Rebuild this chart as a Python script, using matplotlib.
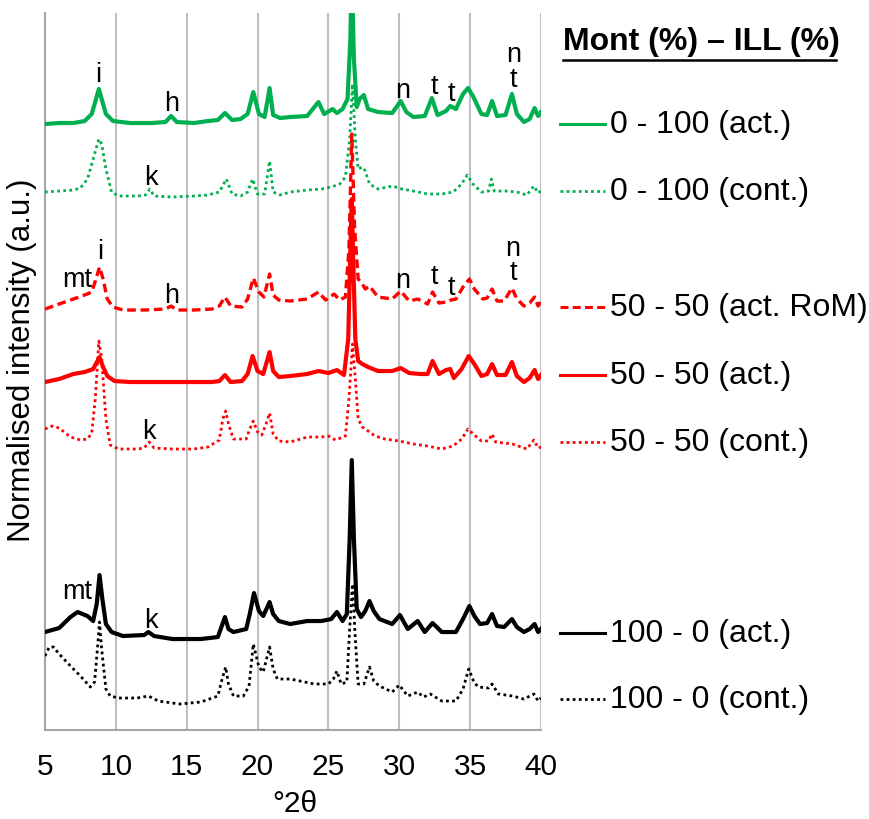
import matplotlib.pyplot as plt

plt.rcParams['font.family'] = ['Liberation Sans', 'DejaVu Sans']

# 2theta / stacked normalised intensity
m0_act_tt = [5.0, 6.0, 7.0, 7.8, 8.3, 8.6, 8.8, 9.0, 9.3, 9.8, 11, 12.5, 13.5, 13.9, 14.3, 15.5, 16.5, 17.2, 17.7, 18.2,
             18.8, 19.3, 19.7, 20.1, 20.5, 20.85, 21.1, 21.6, 22.3, 23.5, 24.3, 24.7, 25.3, 25.6, 26.0, 26.35, 26.55,
             26.65, 26.8, 27.0, 27.2, 27.5, 27.8, 28.5, 29.5, 30.1, 30.5, 31.0, 31.8, 32.3, 32.7, 33.3, 33.6, 34.0,
             34.5, 34.85, 35.2, 35.8, 36.2, 36.55, 36.9, 37.5, 37.95, 38.3, 38.8, 39.2, 39.55, 39.8, 40.0]
m0_act_i = [606, 607, 607, 609, 616, 631, 641, 631, 616, 609, 607, 607, 608, 614, 608, 607, 609, 610, 617, 610,
            611, 616, 638, 616, 613, 642, 615, 612, 613, 614, 628, 616, 621, 617, 621, 631, 691,
            760, 671, 623, 631, 635, 621, 618, 617, 629, 618, 613, 614, 632, 615, 619, 624, 621,
            636, 642, 634, 616, 615, 629, 614, 615, 636, 616, 608, 611, 622, 614, 618]

m0_cont_tt = [5.0, 6.0, 7.0, 7.5, 8.0, 8.4, 8.8, 9.0, 9.3, 9.7, 10.2, 11.5, 12.1, 12.4, 12.7, 14, 15.5, 16.5, 17.3,
              17.8, 18.2, 18.8, 19.3, 19.65, 20.0, 20.5, 20.85, 21.1, 21.6, 22.3, 23.5, 24.5, 25.2, 25.8, 26.2, 26.5,
              26.7, 26.9, 27.1, 27.4, 27.6, 27.9, 28.5, 29.5, 30.2, 31.0, 32.0, 33.0, 33.8, 34.4, 34.8, 35.2, 35.8,
              36.3, 36.5, 36.7, 37.5, 38.3, 39.0, 39.5, 39.8, 40.0]
m0_cont_i = [538, 539, 540, 542, 551, 571, 591, 586, 561, 538, 534, 534, 535, 541, 534, 533, 534, 535, 538,
             551, 536, 534, 538, 551, 536, 536, 569, 538, 535, 538, 540, 541, 543, 546, 553, 591,
             646, 591, 561, 563, 559, 546, 541, 544, 541, 539, 536, 536, 538, 546, 555, 546, 538,
             539, 551, 539, 539, 538, 535, 544, 537, 539]

m50_rom_tt = [5.0, 6.0, 7.0, 7.8, 8.3, 8.6, 8.85, 9.1, 9.4, 9.8, 10.5, 12, 13.5, 13.9, 14.3, 15.5, 16.8, 17.3, 17.7,
              18.1, 18.9, 19.3, 19.7, 20.1, 20.45, 20.85, 21.1, 21.5, 22.3, 23.5, 24.3, 24.8, 25.4, 25.8, 26.2,
              26.45, 26.65, 26.85, 27.1, 27.4, 27.6, 27.9, 28.5, 29.5, 30.1, 30.7, 31.3, 32.0, 32.35, 32.8, 33.3,
              33.65, 34.0, 34.5, 34.95, 35.3, 35.9, 36.2, 36.55, 36.9, 37.4, 37.95, 38.3, 38.8, 39.2, 39.55, 39.8, 40.0]
m50_rom_i = [421, 426, 431, 435, 438, 451, 463, 451, 431, 423, 420, 420, 421, 424, 420, 420, 421, 424, 433,
             424, 423, 431, 452, 438, 433, 456, 435, 430, 429, 431, 438, 430, 436, 430, 433,
             481, 596, 501, 451, 446, 441, 444, 433, 431, 439, 429, 431, 426, 438, 427, 428,
             430, 431, 443, 451, 441, 431, 432, 441, 429, 429, 442, 431, 424, 427, 433, 424, 429]

m50_act_tt = [5.0, 6.0, 7.0, 7.8, 8.4, 8.7, 8.85, 9.1, 9.4, 9.9, 11, 12.5, 14, 15.5, 16.8, 17.3, 17.7, 18.1, 18.9,
              19.3, 19.65, 20.0, 20.4, 20.85, 21.1, 21.5, 22.3, 23.5, 24.3, 25.0, 25.6, 26.1, 26.4, 26.55, 26.65,
              26.75, 26.9, 27.1, 27.4, 27.8, 28.5, 29.5, 30.1, 30.7, 31.5, 32.0, 32.35, 32.8, 33.3, 33.6, 33.85,
              34.4, 34.9, 35.3, 35.8, 36.2, 36.55, 36.9, 37.5, 37.95, 38.3, 38.8, 39.2, 39.55, 39.8, 40.0]
m50_act_i = [348, 351, 356, 358, 361, 369, 373, 363, 354, 349, 348, 348, 348, 348, 348, 349, 355, 348, 349,
             356, 374, 359, 356, 378, 359, 353, 354, 356, 359, 357, 360, 355, 391, 481, 531,
             471, 391, 369, 366, 363, 359, 359, 362, 357, 356, 356, 369, 356, 360, 361, 352,
             361, 374, 366, 354, 356, 366, 355, 355, 368, 354, 348, 352, 360, 351, 355]

m50_cont_tt = [5.0, 5.5, 6.0, 6.8, 7.5, 8.0, 8.3, 8.55, 8.8, 9.0, 9.3, 9.6, 10.2, 11.5, 12.0, 12.35, 12.7, 14, 15.5,
               16.5, 17.3, 17.55, 17.75, 17.95, 18.3, 19.2, 19.45, 19.7, 20.0, 20.3, 20.6, 20.85, 21.1, 21.5, 22.3,
               23.5, 24.5, 25.0, 25.5, 26.2, 26.45, 26.7, 26.9, 27.1, 27.4, 27.8, 28.3, 29, 30, 31, 32, 33, 33.8,
               34.4, 34.85, 35.3, 35.8, 36.3, 36.55, 36.8, 38, 39, 39.5, 39.8, 40.0]
m50_cont_i = [301, 304, 302, 293, 290, 291, 297, 331, 389, 371, 311, 285, 281, 281, 282, 288, 282, 281, 281,
              283, 290, 311, 319, 306, 291, 291, 301, 309, 298, 295, 306, 317, 296, 289, 288,
              293, 293, 294, 290, 294, 331, 386, 351, 311, 303, 299, 294, 291, 289, 286, 284, 281, 284,
              291, 301, 295, 289, 289, 296, 288, 286, 281, 290, 282, 283]

m100_act_tt = [5.0, 6.0, 6.8, 7.3, 8.0, 8.4, 8.65, 8.85, 9.05, 9.3, 9.7, 10.5, 12.0, 12.3, 12.7, 14, 16, 17.2, 17.45,
               17.7, 17.95, 18.3, 19.2, 19.45, 19.75, 20.1, 20.4, 20.85, 21.1, 21.5, 22.3, 23.5, 24.5, 25.2, 25.6,
               26.0, 26.3, 26.5, 26.65, 26.8, 27.0, 27.3, 27.6, 27.9, 28.2, 28.6, 29.5, 30.05, 30.6, 31.3, 31.8,
               32.35, 33.0, 34.0, 34.5, 34.95, 35.3, 35.7, 36.2, 36.55, 36.9, 37.4, 37.95, 38.3, 38.8, 39.2, 39.55,
               39.8, 40.0]
m100_act_i = [98, 102, 113, 118, 114, 109, 126, 155, 131, 106, 98, 94, 95, 98, 94, 91, 91, 93, 103,
              113, 101, 98, 101, 116, 137, 119, 114, 128, 116, 109, 106, 109, 109, 111, 118,
              109, 116, 191, 270, 191, 121, 113, 119, 129, 119, 111, 106, 115, 101, 109, 98,
              107, 98, 98, 111, 124, 114, 106, 107, 116, 104, 103, 111, 103, 98, 101, 106,
              98, 101]

m100_cont_tt = [5.0, 5.3, 5.6, 6.0, 6.8, 7.5, 8.2, 8.5, 8.7, 8.85, 9.0, 9.3, 9.6, 10.2, 11.5, 12.3, 13.0, 14.5, 16.0,
                17.2, 17.5, 17.75, 17.95, 18.3, 19.0, 19.4, 19.7, 20.1, 20.4, 20.85, 21.1, 21.4, 22.3, 23.0, 24.0,
                25.0, 25.35, 25.6, 25.9, 26.3, 26.5, 26.7, 26.9, 27.1, 27.5, 27.9, 28.2, 28.6, 29.5, 30.0, 30.6,
                31.3, 31.7, 32.2, 33.0, 34.0, 34.5, 34.9, 35.3, 35.6, 36.3, 36.55, 37.0, 38.0, 38.8, 39.5, 39.8, 40.0]
m100_cont_i = [74, 83, 83, 76, 64, 54, 43, 48, 81, 108, 81, 41, 34, 32, 32, 34, 29, 26, 28,
               34, 51, 63, 46, 34, 34, 44, 86, 63, 58, 83, 61, 51, 51, 49, 46,
               46, 51, 59, 46, 48, 101, 146, 91, 46, 46, 63, 49, 44, 38, 45, 34,
               38, 33, 36, 29, 29, 41, 61, 47, 43, 42, 46, 36, 34, 31, 36, 29, 32]

labels = ['0 - 100 (act.)', '0 - 100 (cont.)', '50 - 50 (act. RoM)', '50 - 50 (act.)',
          '50 - 50 (cont.)', '100 - 0 (act.)', '100 - 0 (cont.)']

GREEN = '#00B050'
RED = '#FF0000'
DOT = (0, (1, 1.2))
DASH = (0, (2.6, 1.4))

series = [
    (m0_act_tt, m0_act_i, GREEN, '-', 3.0),
    (m0_cont_tt, m0_cont_i, GREEN, DOT, 2.0),
    (m50_rom_tt, m50_rom_i, RED, DASH, 2.4),
    (m50_act_tt, m50_act_i, RED, '-', 3.0),
    (m50_cont_tt, m50_cont_i, RED, DOT, 2.0),
    (m100_act_tt, m100_act_i, 'black', '-', 3.0),
    (m100_cont_tt, m100_cont_i, 'black', DOT, 2.0),
]
legend_y = [606, 539, 423, 355, 288, 97, 31]

fig = plt.figure(figsize=(8.7, 8.2), dpi=100)
ax = fig.add_axes([0.0517, 0.1085, 0.5701, 0.8744])

for tt, inten, col, ls, lw in series:
    ax.plot(tt, inten, color=col, linestyle=ls, linewidth=lw, zorder=3)

ax.set_xlim(5, 40)
ax.set_ylim(0, 717)
ax.set_xticks(range(5, 41, 5))
ax.set_yticks([])
ax.tick_params(axis='x', length=0, pad=16, labelsize=21.5)
for x in range(10, 41, 5):
    ax.axvline(x, color='#BFBFBF', linewidth=1.5, zorder=1)
for s in ['top', 'right']:
    ax.spines[s].set_visible(False)
for s in ['left', 'bottom']:
    ax.spines[s].set_color('#A6A6A6')
    ax.spines[s].set_linewidth(1.5)

ax.set_xlabel('°2θ', fontsize=21.5)
ax.xaxis.set_label_coords(0.504, -0.082)
ax.set_ylabel('Normalised intensity (a.u.)', fontsize=22.5, va='center')
ax.yaxis.set_label_coords(-0.046, 0.517)

# mineral peak labels
peak_marks = [
    ('i', 8.74, 656), ('h', 13.96, 627), ('k', 12.5, 553), ('n', 30.26, 640), ('t', 32.45, 644),
    ('t', 33.65, 637), ('n', 38.1, 676), ('t', 38.03, 651),
    ('mt', 7.26, 451), ('i', 8.88, 479), ('h', 13.96, 435), ('k', 12.34, 299), ('n', 30.26, 450),
    ('t', 32.45, 454), ('t', 33.65, 443), ('n', 38.03, 482), ('t', 38.03, 458),
    ('mt', 7.26, 139), ('k', 12.5, 110),
]
for txt, x, y in peak_marks:
    ax.text(x, y, txt, fontsize=19.5, ha='center', va='center', zorder=4)

# legend drawn beside each trace
tr = ax.get_yaxis_transform()
for (tt, inten, col, ls, lw), lab, y in zip(series, labels, legend_y):
    ax.plot([1.038, 1.129], [y, y], color=col, linestyle=ls, linewidth=min(lw, 2.2),
            transform=tr, clip_on=False)
    ax.text(1.139, y, lab, fontsize=23, ha='left', va='center', transform=tr)

ax.text(1.044, 689, 'Mont (%) \u2013 ILL (%)', fontsize=23, fontweight='bold',
        ha='left', va='center', transform=tr)
ax.plot([1.044, 1.594], [670, 670], color='black', linewidth=1.8, transform=tr, clip_on=False)

fig.savefig('out.png', dpi=100)
